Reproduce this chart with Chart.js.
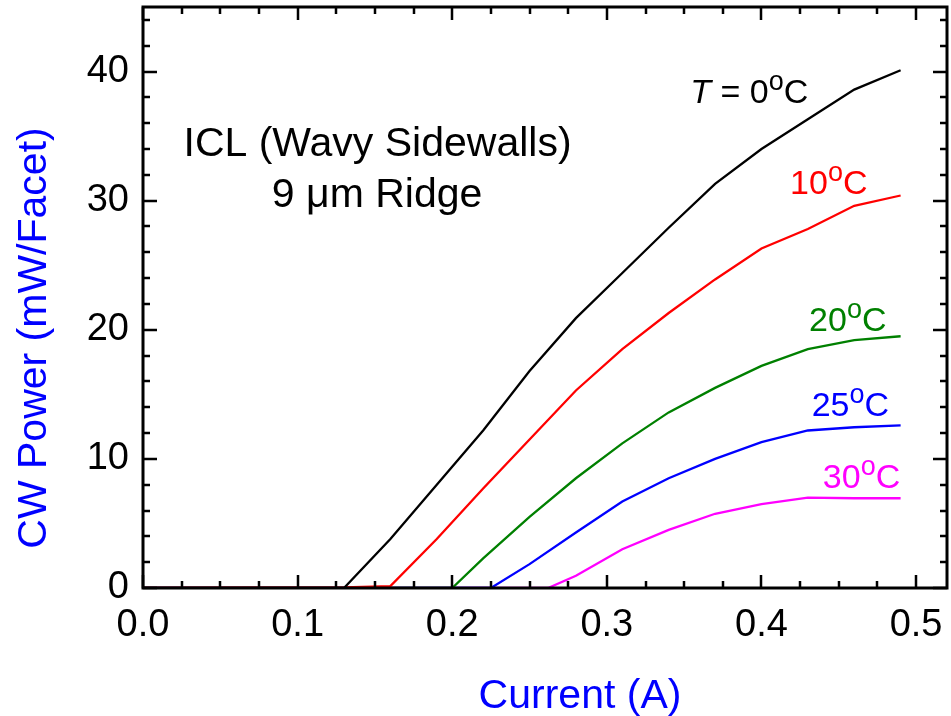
<!DOCTYPE html>
<html><head><meta charset="utf-8">
<script src="https://cdn.jsdelivr.net/npm/chart.js@4.4.1/dist/chart.umd.min.js"></script>
<style>html,body{margin:0;padding:0;background:#fff;overflow:hidden}#wrap{width:951px;height:716px;position:relative}</style>
</head><body><div id="wrap"><canvas id="c" width="951" height="716"></canvas></div>
<script>
// ---- data ----
const current0  = [0, 0.13, 0.16, 0.19, 0.22, 0.25, 0.28, 0.31, 0.34, 0.37, 0.40, 0.43, 0.46, 0.49];
const power0    = [0, 0,    3.8,  8.0,  12.2, 16.8, 20.9, 24.4, 27.9, 31.3, 34.0, 36.3, 38.6, 40.1];
const current10 = [0, 0.13, 0.16, 0.19, 0.22, 0.25, 0.28, 0.31, 0.34, 0.37, 0.40, 0.43, 0.46, 0.49];
const power10   = [0, 0.05, 0.15, 3.8,  7.7,  11.5, 15.3, 18.5, 21.3, 23.9, 26.3, 27.8, 29.6, 30.4];
const current20 = [0, 0.19, 0.20, 0.22, 0.25, 0.28, 0.31, 0.34, 0.37, 0.40, 0.43, 0.46, 0.49];
const power20   = [0, 0,    0,    2.3,  5.5,  8.5,  11.2, 13.6, 15.5, 17.2, 18.5, 19.2, 19.5];
const current25 = [0, 0.21, 0.225, 0.25, 0.28, 0.31, 0.34, 0.37, 0.40, 0.43, 0.46, 0.49];
const power25   = [0, 0,    0,     1.85, 4.3,  6.7,  8.5,  10.0, 11.3, 12.2, 12.45, 12.6];
const current30 = [0, 0.19, 0.262, 0.28, 0.31, 0.34, 0.37, 0.40, 0.43, 0.46, 0.49];
const power30   = [0, 0,    0,     0.95, 3.0,  4.5,  5.75, 6.5,  7.0,  6.95, 6.95];
const xTickValues = [0, 0.1, 0.2, 0.3, 0.4, 0.5];
const yTickValues = [0, 10, 20, 30, 40];
const seriesNames = ['0', '10', '20', '25', '30'];

const FONT = "'Liberation Sans', Arial, Helvetica, sans-serif";
const pts = (xs, ys) => xs.map((x, i) => ({x, y: ys[i]}));

const seriesDefs = [
  {name: seriesNames[0], xs: current0,  ys: power0,  color: '#000000'},
  {name: seriesNames[1], xs: current10, ys: power10, color: '#ff0000'},
  {name: seriesNames[2], xs: current20, ys: power20, color: '#008000'},
  {name: seriesNames[3], xs: current25, ys: power25, color: '#0000ff'},
  {name: seriesNames[4], xs: current30, ys: power30, color: '#ff00ff'}
];

// text annotations (anchored in data coordinates)
const annotations = [
  {x: 0.1517, y: 33.45, align: 'center', color: '#000', parts: [{t: 'ICL (Wavy Sidewalls)', size: 41}]},
  {x: 0.1514, y: 29.53, align: 'center', color: '#000', parts: [{t: '9 \u03bcm Ridge', size: 41}]},
  {x: 0.3540, y: 37.6, align: 'left', color: '#000', parts: [{t: 'T', size: 34, italic: true}, {t: ' = 0', size: 34}, {t: 'o', size: 27, sup: 13}, {t: 'C', size: 34}]},
  {x: 0.4185, y: 30.5, align: 'left', color: '#ff0000', parts: [{t: '10', size: 34}, {t: 'o', size: 27, sup: 13}, {t: 'C', size: 34}]},
  {x: 0.4308, y: 19.9, align: 'left', color: '#008000', parts: [{t: '20', size: 34}, {t: 'o', size: 27, sup: 13}, {t: 'C', size: 34}]},
  {x: 0.4325, y: 13.36, align: 'left', color: '#0000ff', parts: [{t: '25', size: 34}, {t: 'o', size: 27, sup: 13}, {t: 'C', size: 34}]},
  {x: 0.4397, y: 7.73, align: 'left', color: '#ff00ff', parts: [{t: '30', size: 34}, {t: 'o', size: 27, sup: 13}, {t: 'C', size: 34}]}
];

const framePlugin = {
  id: 'frameTicks',
  afterDraw(chart) {
    const ctx = chart.ctx, xs = chart.scales.x, ys = chart.scales.y, a = chart.chartArea;
    ctx.save();
    ctx.strokeStyle = '#000';
    ctx.lineCap = 'butt';
    // ticks
    ctx.lineWidth = 2.5;
    ctx.beginPath();
    for (let k = 0; k <= 20; k++) {
      const v = k * 0.025;
      if (v > xs.max + 1e-9) break;
      const major = k % 4 === 0;
      const len = major ? 13 : 7;
      const px = Math.round(xs.getPixelForValue(v));
      ctx.moveTo(px, a.bottom); ctx.lineTo(px, a.bottom - len);
      ctx.moveTo(px, a.top); ctx.lineTo(px, a.top + len);
    }
    for (let k = 0; k <= 22; k++) {
      const v = k * 2;
      if (v > ys.max + 1e-9) break;
      const major = k % 5 === 0;
      const len = major ? 14 : 7;
      const py = Math.round(ys.getPixelForValue(v));
      ctx.moveTo(a.left, py); ctx.lineTo(a.left + len, py);
      ctx.moveTo(a.right, py); ctx.lineTo(a.right - len, py);
    }
    ctx.stroke();
    // frame
    ctx.lineWidth = 3;
    ctx.strokeRect(a.left, a.top, a.right - a.left, a.bottom - a.top);

    // annotations
    ctx.textBaseline = 'alphabetic';
    ctx.textAlign = 'left';
    const fontOf = p => (p.italic ? 'italic ' : '') + p.size + 'px ' + FONT;
    annotations.forEach(an => {
      let w = 0;
      an.parts.forEach(p => { ctx.font = fontOf(p); w += ctx.measureText(p.t).width; });
      let x = xs.getPixelForValue(an.x);
      const y = ys.getPixelForValue(an.y);
      if (an.align === 'center') x -= w / 2;
      ctx.fillStyle = an.color;
      an.parts.forEach(p => {
        ctx.font = fontOf(p);
        ctx.fillText(p.t, x, y - (p.sup || 0));
        x += ctx.measureText(p.t).width;
      });
    });

    // axis titles
    ctx.fillStyle = '#0000ff';
    ctx.font = '41px ' + FONT;
    ctx.textAlign = 'center';
    ctx.textBaseline = 'alphabetic';
    ctx.fillText('Current (A)', 580, 708);
    ctx.save();
    ctx.translate(35, 338);
    ctx.rotate(-Math.PI / 2);
    ctx.textBaseline = 'middle';
    ctx.fillText('CW Power (mW/Facet)', 0, 0);
    ctx.restore();
    ctx.restore();
  }
};

new Chart(document.getElementById('c'), {
  type: 'line',
  data: {
    datasets: seriesDefs.map(s => ({
      label: s.name,
      data: pts(s.xs, s.ys),
      borderColor: s.color,
      backgroundColor: s.color,
      borderWidth: 2.3,
      pointRadius: 0,
      tension: 0,
      fill: false
    }))
  },
  options: {
    responsive: false,
    animation: false,
    devicePixelRatio: 1,
    layout: {padding: {left: 0, right: 4, top: 7, bottom: 0}},
    plugins: {legend: {display: false}, tooltip: {enabled: false}, title: {display: false}},
    scales: {
      x: {
        type: 'linear', min: 0, max: 0.52,
        afterBuildTicks: s => { s.ticks = xTickValues.map(v => ({value: v})); },
        afterFit: s => { s.height = 128; s.paddingLeft = 0; s.paddingRight = 0; },
        ticks: {callback: v => Number(v).toFixed(1), font: {family: FONT, size: 38}, color: '#000', padding: 15, maxRotation: 0, autoSkip: false},
        grid: {display: false, drawTicks: false},
        border: {display: false}
      },
      y: {
        type: 'linear', min: 0, max: 45,
        afterBuildTicks: s => { s.ticks = yTickValues.map(v => ({value: v})); },
        afterFit: s => { s.width = 143; s.paddingTop = 0; s.paddingBottom = 0; },
        ticks: {callback: v => String(v), font: {family: FONT, size: 38}, color: '#000', padding: 14, autoSkip: false},
        grid: {display: false, drawTicks: false},
        border: {display: false}
      }
    }
  },
  plugins: [framePlugin]
});
</script>
</body></html>
